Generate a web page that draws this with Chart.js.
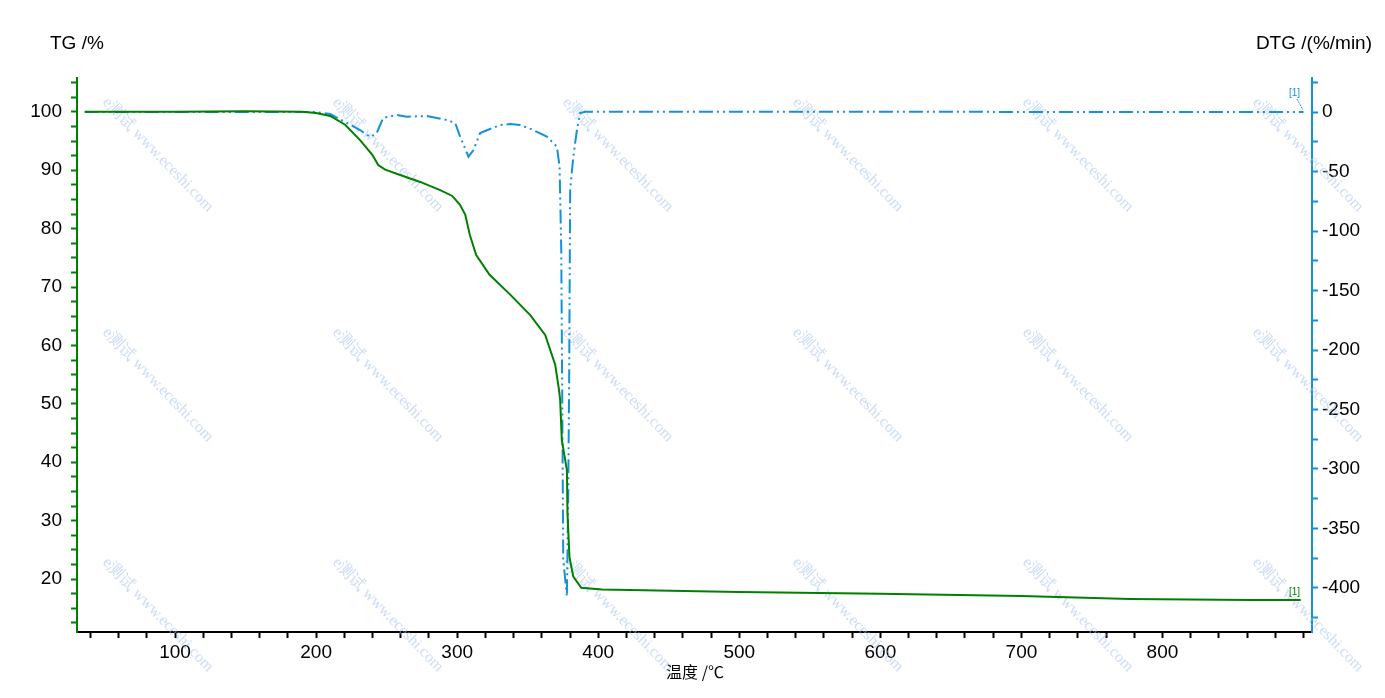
<!DOCTYPE html>
<html>
<head>
<meta charset="utf-8">
<script src="https://cdn.jsdelivr.net/npm/chart.js@4.4.1/dist/chart.umd.min.js"></script>
<style>
  html, body { margin: 0; padding: 0; background: #fff; }
  #wrap { width: 1385px; height: 698px; }
</style>
</head>
<body>
<div id="wrap"><canvas id="tgChart" width="1385" height="698"></canvas></div>
<script>
// TG curve (temperature in C, mass in %)
const tgTemp = [36, 100, 150, 190, 200, 210, 220.6, 231, 240, 244, 249, 259.6, 273.8, 288, 296.5, 302, 305.7, 309, 313.5, 323, 337.6, 351.8, 362.4, 369.5, 372.2, 373.0, 374.2, 376.5, 377.8, 378.2, 379.6, 382.3, 388, 402.8, 500, 600, 700, 777, 862, 898];
const tgValue = [100, 100, 100.1, 100, 99.8, 99.3, 97.8, 95.2, 92.6, 90.9, 90.1, 89.2, 88.0, 86.6, 85.6, 84.1, 82.4, 78.9, 75.5, 72.1, 68.7, 65.2, 61.8, 56.7, 52.4, 50.7, 43.8, 40.5, 38.7, 31.3, 23.8, 20.4, 18.5, 18.2, 17.8, 17.5, 17.1, 16.6, 16.4, 16.4];

// DTG curve (%/min)
const dtgTemp = [36, 200, 210, 220.6, 231.2, 238.3, 243, 247.5, 257.2, 264.3, 278.5, 292.7, 298.6, 302.1, 308, 311.6, 316.3, 330.5, 337.6, 344.7, 353.9, 363.6, 370.7, 372.6, 373.8, 374.5, 375.2, 377.8, 378.7, 379.4, 380.1, 382.3, 384.9, 387.2, 390.8, 900];
const dtgValue = [0, 0, -1.7, -8.4, -15.1, -21, -17.6, -5, -2.5, -3.9, -3.4, -6.7, -9.2, -20.7, -37.5, -31.9, -17.6, -10.9, -10.1, -10.9, -15.1, -20.7, -29.1, -46, -116, -242, -376, -407, -326, -225, -65.5, -37.8, -15.1, -0.8, 0.3, 0];

// tick labels
const tempTicks = [100, 200, 300, 400, 500, 600, 700, 800];
const tgTicks = [20, 30, 40, 50, 60, 70, 80, 90, 100];
const dtgTicks = [0, -50, -100, -150, -200, -250, -300, -350, -400];

const green = '#008000';
const blue = '#1591d8';
const tickFont = { family: 'Liberation Sans, Arial', size: 19 };

function toPoints(xs, ys) {
  return xs.map((x, i) => ({ x: x, y: ys[i] }));
}

// majors plus minor ticks between them
function withMinors(axis, majors, step) {
  const out = [];
  const start = Math.ceil(axis.min / step) * step;
  for (let v = start; v <= axis.max + 1e-9; v += step) {
    out.push({ value: Math.round(v * 100) / 100 });
  }
  axis.ticks = out;
}

const overlay = {
  id: 'overlay',
  beforeDatasetsDraw(chart) {
    const ctx = chart.ctx;
    ctx.save();
    ctx.font = '16px "Liberation Serif", serif';
    ctx.fillStyle = 'rgba(160,192,235,0.55)';
    ctx.textBaseline = 'middle';
    [100, 330, 560].forEach(y => {
      [105, 335, 565, 795, 1025, 1255].forEach(x => {
        ctx.save();
        ctx.translate(x, y);
        ctx.rotate(46 * Math.PI / 180);
        ctx.fillText('e测试 www.eceshi.com', 0, 0);
        ctx.restore();
      });
    });
    ctx.restore();
  },
  afterDraw(chart) {
    const ctx = chart.ctx;
    ctx.save();
    ctx.font = '19px "Liberation Sans", Arial';
    ctx.fillStyle = '#000';
    ctx.textBaseline = 'middle';
    ctx.textAlign = 'left';
    ctx.fillText('TG /%', 50, 44);
    ctx.textAlign = 'right';
    ctx.fillText('DTG /(%/min)', 1372, 44);
    // x axis title
    ctx.textAlign = 'center';
    ctx.font = '16px "Noto Sans CJK SC", "Liberation Sans"';
    ctx.fillText('温度 /℃', 695, 672);
    // curve markers
    ctx.font = '10px "Liberation Sans", Arial';
    ctx.textAlign = 'left';
    ctx.fillStyle = blue;
    ctx.fillText('[1]', 1289, 93);
    ctx.strokeStyle = blue;
    ctx.lineWidth = 1;
    ctx.setLineDash([2, 1]);
    ctx.beginPath();
    ctx.moveTo(1297, 99);
    ctx.lineTo(1303, 110);
    ctx.stroke();
    ctx.fillStyle = green;
    ctx.fillText('[1]', 1289, 592);
    ctx.restore();
  }
};

new Chart(document.getElementById('tgChart').getContext('2d'), {
  type: 'line',
  data: {
    datasets: [
      {
        label: 'TG',
        data: toPoints(tgTemp, tgValue),
        yAxisID: 'yTG',
        borderColor: green,
        borderWidth: 2,
        pointRadius: 0,
        tension: 0,
        fill: false
      },
      {
        label: 'DTG',
        data: toPoints(dtgTemp, dtgValue),
        yAxisID: 'yDTG',
        borderColor: blue,
        borderWidth: 2,
        borderDash: [14, 4, 2, 4, 2, 4],
        pointRadius: 0,
        tension: 0,
        fill: false
      }
    ]
  },
  options: {
    responsive: false,
    animation: false,
    layout: { padding: { top: 78, left: 0, right: 0, bottom: 0 } },
    plugins: {
      legend: { display: false },
      tooltip: { enabled: false }
    },
    scales: {
      x: {
        type: 'linear',
        min: 30.5,
        max: 906,
        afterBuildTicks: axis => withMinors(axis, tempTicks, 20),
        afterFit: axis => { axis.height = 66; },
        ticks: {
          autoSkip: false,
          maxRotation: 0,
          padding: 3,
          color: '#000',
          font: tickFont,
          callback: v => tempTicks.includes(v) ? String(v) : ''
        },
        grid: { drawOnChartArea: false, tickLength: 6, tickWidth: 2, tickColor: '#000' },
        border: { color: '#000', width: 2 }
      },
      yTG: {
        position: 'left',
        min: 10.93,
        max: 105.8,
        afterBuildTicks: axis => withMinors(axis, tgTicks, 2.5),
        afterFit: axis => { axis.width = 77; },
        ticks: {
          autoSkip: false,
          padding: 9,
          color: '#000',
          font: tickFont,
          callback: v => tgTicks.includes(v) ? String(v) : ''
        },
        grid: { drawOnChartArea: false, tickLength: 6, tickWidth: 2, tickColor: green },
        border: { color: green, width: 2 }
      },
      yDTG: {
        position: 'right',
        min: -437,
        max: 28.6,
        afterBuildTicks: axis => withMinors(axis, dtgTicks, 25),
        afterFit: axis => { axis.width = 73; },
        ticks: {
          autoSkip: false,
          padding: 4,
          color: '#000',
          font: tickFont,
          callback: v => dtgTicks.includes(v) ? String(v) : ''
        },
        grid: { drawOnChartArea: false, tickLength: 6, tickWidth: 2, tickColor: blue },
        border: { color: blue, width: 2 }
      }
    }
  },
  plugins: [overlay]
});
</script>
</body>
</html>
